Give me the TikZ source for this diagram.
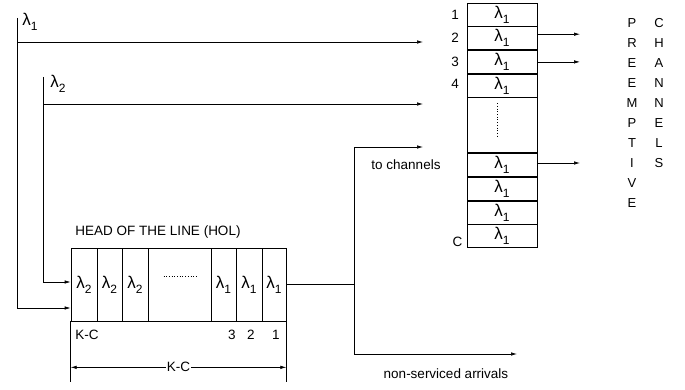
\documentclass[tikz,border=0pt]{standalone}
\usepackage{fontspec}
\setmainfont{Liberation Sans}
\usetikzlibrary{arrows.meta}
\newcommand{\Lam}[1]{{\fontsize{17}{19}\selectfont λ}\raisebox{-0.7ex}{\fontsize{12}{14}\selectfont #1}}

\begin{document}
\begin{tikzpicture}[x=1pt,y=-1pt,font=\fontsize{13.5}{16}\selectfont,>={Latex[length=6pt,width=3.5pt]},line width=0.7pt,
  cell/.style={draw,minimum height=73pt,inner sep=0pt},
  slot/.style={draw,minimum width=70pt,inner sep=0pt},
  letter/.style={font=\fontsize{13}{15}\selectfont,inner sep=0pt}]
  \useasboundingbox (0,0) rectangle (685,390);

  % queue at the head of the line
  \node[cell,minimum width=26pt] (q1) at (84,284.5) {\Lam{2}};
  \node[cell,minimum width=25pt] (q2) at (109.5,284.5) {\Lam{2}};
  \node[cell,minimum width=26pt] (q3) at (135,284.5) {\Lam{2}};
  \node[cell,minimum width=63pt] (q4) at (179.5,284.5) {};
  \node[cell,minimum width=25pt] (q5) at (223.5,284.5) {\Lam{1}};
  \node[cell,minimum width=26pt] (q6) at (249,284.5) {\Lam{1}};
  \node[cell,minimum width=24pt] (q7) at (274,284.5) {\Lam{1}};
  \draw[dotted] ([xshift=-16pt,yshift=8pt]q4.center) -- ([xshift=18pt,yshift=8pt]q4.center);
  \node (hol) at (158,232) {HEAD OF THE LINE (HOL)};

  % positions under the queue
  \node (kc) at (87,335) {K-C};
  \node (n3) at (232,335) {3};
  \node (n2) at (251,335) {2};
  \node (n1) at (276,335) {1};
  \draw (q1.south west) -- ++(0,61) coordinate (dl);
  \draw (q7.south east) -- ++(0,61) coordinate (dr);
  \draw[<->] ([yshift=15pt]dl) -- node[fill=white,inner sep=1pt] (dim) {K-C} ([yshift=15pt]dr);

  % channel column
  \node[slot,minimum height=23pt] (c1) at (502,14.5) {\Lam{1}};
  \node[slot,minimum height=23pt,anchor=north] (c2) at (c1.south) {\Lam{1}};
  \node[slot,minimum height=23pt,anchor=north] (c3) at (c2.south) {\Lam{1}};
  \node[slot,minimum height=23pt,anchor=north] (c4) at (c3.south) {\Lam{1}};
  \node[slot,minimum height=55pt,anchor=north] (c5) at (c4.south) {};
  \node[slot,minimum height=23pt,anchor=north] (c6) at (c5.south) {\Lam{1}};
  \node[slot,minimum height=23pt,anchor=north] (c7) at (c6.south) {\Lam{1}};
  \node[slot,minimum height=23pt,anchor=north] (c8) at (c7.south) {\Lam{1}};
  \node[slot,minimum height=23pt,anchor=north] (c9) at (c8.south) {\Lam{1}};
  \draw[dotted] ([xshift=-5pt,yshift=22pt]c5.center) -- ([xshift=-5pt,yshift=-12pt]c5.center);
  \node[anchor=east] (r1) at ([xshift=-4pt]c1.west) {1};
  \node[anchor=east] (r2) at ([xshift=-4pt]c2.west) {2};
  \node[anchor=east] (r3) at ([xshift=-4pt]c3.west) {3};
  \node[anchor=east] (r4) at ([xshift=-4pt,yshift=2pt]c4.west) {4};
  \node[anchor=south east,inner sep=1pt] (rc) at ([xshift=-3pt]c9.south west) {C};

  % arrivals
  \node[anchor=west,inner sep=0pt] (lab1) at (22,22) {\Lam{1}};
  \node[anchor=west,inner sep=0pt] (lab2) at (50,84) {\Lam{2}};
  \coordinate (l1top) at (17,18);
  \coordinate (l2top) at (43,77);
  \coordinate (l1end) at (423,42);
  \coordinate (l2end) at (423,104);
  \draw[->] (l1top) |- ([yshift=-23.5pt]q1.west);
  \draw[->] (l2top) |- ([yshift=2.5pt]q1.west);
  \draw[->] (l1top |- l1end) -- (l1end);
  \draw[->] (l2top |- l2end) -- (l2end);

  % leaving the queue
  \coordinate (split) at (354,284.5);
  \coordinate (tochan) at (423,147);
  \coordinate (nonserv) at (517,354);
  \draw (q7.east) -- (split);
  \draw[->] (split) |- (tochan);
  \draw[->] (split) |- (nonserv);
  \node (tc) at (406,165) {to channels};
  \node (ns) at (446,374) {non-serviced arrivals};

  % preemptive channels
  \coordinate (outx) at (580,0);
  \draw[->] ([yshift=4pt]c2.east) -- ([yshift=4pt]c2.east -| outx);
  \draw[->] (c3.east) -- (c3.east -| outx);
  \draw[->] ([yshift=2pt]c6.east) -- ([yshift=2pt]c6.east -| outx);
  \foreach \ch [count=\i] in {P,R,E,E,M,P,T,I,V,E}
    \node[letter] (p\i) at (632,3+20*\i) {\ch};
  \foreach \ch [count=\i] in {C,H,A,N,N,E,L,S}
    \node[letter] (h\i) at (659,3+20*\i) {\ch};
\end{tikzpicture}
\end{document}
